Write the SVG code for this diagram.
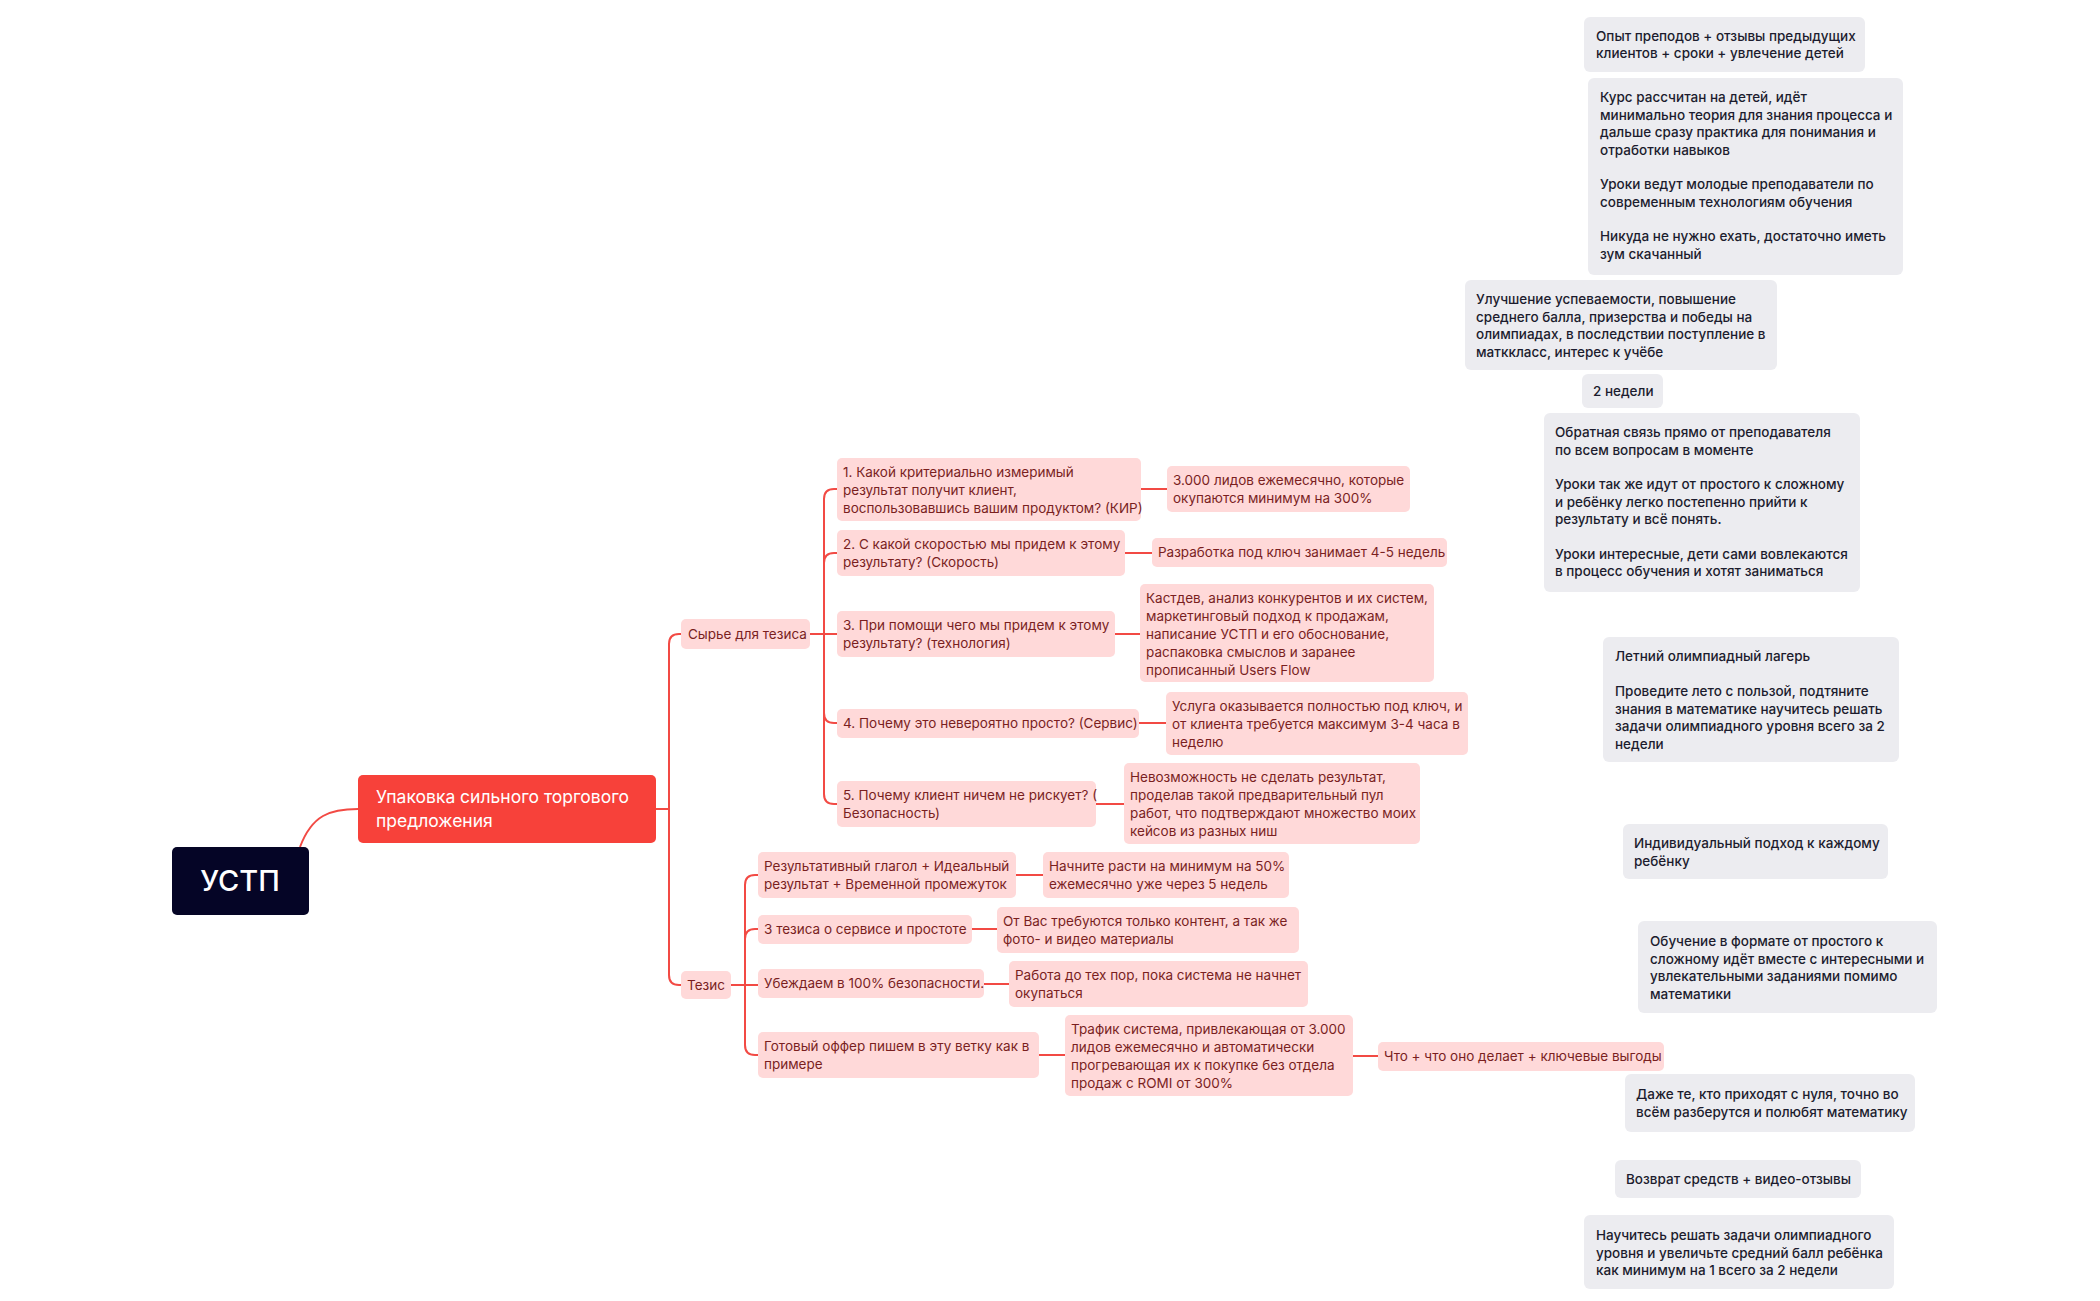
<svg xmlns="http://www.w3.org/2000/svg" width="2100" height="1301" viewBox="0 0 2100 1301">
<style>
.p{fill:#ffd9d9}
.g{fill:#ececf0}
.pt{font-family:Inter,"Liberation Sans",sans-serif;font-size:13.5px;fill:#7a1f1f}
.gt{font-family:Inter,"Liberation Sans",sans-serif;font-size:13.5px;font-weight:500;fill:#1c1c2e}
.c{fill:none;stroke:#f24a44;stroke-width:2}
</style>
<rect width="2100" height="1301" fill="#fff"/>
<g id="connectors">
<path class="c" d="M300,847 C312,815 330,809 358,809"/>
<path class="c" d="M656,809 H669 V644 Q669,634 679,634 H681"/>
<path class="c" d="M669,809 V975 Q669,985 679,985 H681"/>
<path class="c" d="M810,634 H824 V499 Q824,489 834,489 H837"/>
<path class="c" d="M824,563 Q824,553 834,553 H837"/>
<path class="c" d="M824,634 H837"/>
<path class="c" d="M824,634 V713 Q824,723 834,723 H837"/>
<path class="c" d="M824,713 V794 Q824,804 834,804 H837"/>
<path class="c" d="M1141,489 H1167 M1125,553 H1152 M1115,634 H1140 M1139,723 H1166 M1096,804 H1124"/>
<path class="c" d="M731,985 H745 V885 Q745,875 755,875 H758"/>
<path class="c" d="M745,939 Q745,929 755,929 H758"/>
<path class="c" d="M745,985 H758"/>
<path class="c" d="M745,985 V1045 Q745,1055 755,1055 H758"/>
<path class="c" d="M1016,875 H1043 M972,929 H997 M984,984 H1009 M1039,1055 H1065 M1353,1056 H1378"/>
</g>
<g id="root"><rect x="172" y="847" width="137" height="68" rx="5" fill="#050526"/><text x="240" y="891" text-anchor="middle" font-family="Inter,'Liberation Sans',sans-serif" font-size="29" font-weight="500" fill="#fff">УСТП</text></g>
<g id="main"><rect x="358" y="775" width="298" height="68" rx="5" fill="#f7413a"/><text font-family="Inter,'Liberation Sans',sans-serif" font-size="17.5" fill="#fff"><tspan x="376" y="803">Упаковка сильного торгового</tspan><tspan x="376" y="827">предложения</tspan></text></g>
<g id="raw"><rect class="p" x="681" y="619" width="129" height="30" rx="5"/><text class="pt" x="688" y="639">Сырье для тезиса</text></g>
<g id="thesis"><rect class="p" x="681" y="971" width="50" height="28" rx="5"/><text class="pt" x="687" y="990">Тезис</text></g>
<g id="q1"><rect class="p" x="837" y="458" width="304" height="63" rx="5"/><text class="pt"><tspan x="843" y="477">1. Какой критериально измеримый</tspan><tspan x="843" y="495">результат получит клиент,</tspan><tspan x="843" y="513">воспользовавшись вашим продуктом? (КИР)</tspan></text></g>
<g id="q2"><rect class="p" x="837" y="530" width="288" height="46" rx="5"/><text class="pt"><tspan x="843" y="549">2. С какой скоростью мы придем к этому</tspan><tspan x="843" y="567">результату? (Скорость)</tspan></text></g>
<g id="q3"><rect class="p" x="837" y="611" width="278" height="46" rx="5"/><text class="pt"><tspan x="843" y="630">3. При помощи чего мы придем к этому</tspan><tspan x="843" y="648">результату? (технология)</tspan></text></g>
<g id="q4"><rect class="p" x="837" y="709" width="302" height="29" rx="5"/><text class="pt" x="843" y="728">4. Почему это невероятно просто? (Сервис)</text></g>
<g id="q5"><rect class="p" x="837" y="781" width="259" height="46" rx="5"/><text class="pt"><tspan x="843" y="800">5. Почему клиент ничем не рискует? (</tspan><tspan x="843" y="818">Безопасность)</tspan></text></g>
<g id="a1"><rect class="p" x="1167" y="466" width="243" height="46" rx="5"/><text class="pt"><tspan x="1173" y="485">3.000 лидов ежемесячно, которые</tspan><tspan x="1173" y="503">окупаются минимум на 300%</tspan></text></g>
<g id="a2"><rect class="p" x="1152" y="538" width="295" height="29" rx="5"/><text class="pt" x="1158" y="557">Разработка под ключ занимает 4-5 недель</text></g>
<g id="a3"><rect class="p" x="1140" y="584" width="294" height="98" rx="5"/><text class="pt"><tspan x="1146" y="603">Кастдев, анализ конкурентов и их систем,</tspan><tspan x="1146" y="621">маркетинговый подход к продажам,</tspan><tspan x="1146" y="639">написание УСТП и его обоснование,</tspan><tspan x="1146" y="657">распаковка смыслов и заранее</tspan><tspan x="1146" y="675">прописанный Users Flow</tspan></text></g>
<g id="a4"><rect class="p" x="1166" y="692" width="302" height="63" rx="5"/><text class="pt"><tspan x="1172" y="711">Услуга оказывается полностью под ключ, и</tspan><tspan x="1172" y="729">от клиента требуется максимум 3-4 часа в</tspan><tspan x="1172" y="747">неделю</tspan></text></g>
<g id="a5"><rect class="p" x="1124" y="763" width="296" height="81" rx="5"/><text class="pt"><tspan x="1130" y="782">Невозможность не сделать результат,</tspan><tspan x="1130" y="800">проделав такой предварительный пул</tspan><tspan x="1130" y="818">работ, что подтверждают множество моих</tspan><tspan x="1130" y="836">кейсов из разных ниш</tspan></text></g>
<g id="t1"><rect class="p" x="758" y="852" width="258" height="46" rx="5"/><text class="pt"><tspan x="764" y="871">Результативный глагол + Идеальный</tspan><tspan x="764" y="889">результат + Временной промежуток</tspan></text></g>
<g id="t2"><rect class="p" x="758" y="915" width="214" height="29" rx="5"/><text class="pt" x="764" y="934">3 тезиса о сервисе и простоте</text></g>
<g id="t3"><rect class="p" x="758" y="969" width="226" height="29" rx="5"/><text class="pt" x="764" y="988">Убеждаем в 100% безопасности.</text></g>
<g id="t4"><rect class="p" x="758" y="1032" width="281" height="46" rx="5"/><text class="pt"><tspan x="764" y="1051">Готовый оффер пишем в эту ветку как в</tspan><tspan x="764" y="1069">примере</tspan></text></g>
<g id="t1a"><rect class="p" x="1043" y="852" width="246" height="46" rx="5"/><text class="pt"><tspan x="1049" y="871">Начните расти на минимум на 50%</tspan><tspan x="1049" y="889">ежемесячно уже через 5 недель</tspan></text></g>
<g id="t2a"><rect class="p" x="997" y="907" width="302" height="46" rx="5"/><text class="pt"><tspan x="1003" y="926">От Вас требуются только контент, а так же</tspan><tspan x="1003" y="944">фото- и видео материалы</tspan></text></g>
<g id="t3a"><rect class="p" x="1009" y="961" width="299" height="46" rx="5"/><text class="pt"><tspan x="1015" y="980">Работа до тех пор, пока система не начнет</tspan><tspan x="1015" y="998">окупаться</tspan></text></g>
<g id="t4a"><rect class="p" x="1065" y="1015" width="288" height="81" rx="5"/><text class="pt"><tspan x="1071" y="1034">Трафик система, привлекающая от 3.000</tspan><tspan x="1071" y="1052">лидов ежемесячно и автоматически</tspan><tspan x="1071" y="1070">прогревающая их к покупке без отдела</tspan><tspan x="1071" y="1088">продаж с ROMI от 300%</tspan></text></g>
<g id="t4b"><rect class="p" x="1378" y="1042" width="286" height="29" rx="5"/><text class="pt" x="1384" y="1061">Что + что оно делает + ключевые выгоды</text></g>
<g id="g1"><rect class="g" x="1584" y="17" width="281" height="55" rx="6"/><text class="gt"><tspan x="1596" y="41">Опыт преподов + отзывы предыдущих</tspan><tspan x="1596" y="58">клиентов + сроки + увлечение детей</tspan></text></g>
<g id="g2"><rect class="g" x="1588" y="78" width="315" height="197" rx="6"/><text class="gt"><tspan x="1600" y="102">Курс рассчитан на детей, идёт</tspan><tspan x="1600" y="119.5">минимально теория для знания процесса и</tspan><tspan x="1600" y="137">дальше сразу практика для понимания и</tspan><tspan x="1600" y="154.5">отработки навыков</tspan><tspan x="1600" y="189">Уроки ведут молодые преподаватели по</tspan><tspan x="1600" y="206.5">современным технологиям обучения</tspan><tspan x="1600" y="241">Никуда не нужно ехать, достаточно иметь</tspan><tspan x="1600" y="258.5">зум скачанный</tspan></text></g>
<g id="g3"><rect class="g" x="1465" y="280" width="312" height="90" rx="6"/><text class="gt"><tspan x="1476" y="304">Улучшение успеваемости, повышение</tspan><tspan x="1476" y="321.5">среднего балла, призерства и победы на</tspan><tspan x="1476" y="339">олимпиадах, в последствии поступление в</tspan><tspan x="1476" y="356.5">матккласс, интерес к учёбе</tspan></text></g>
<g id="g4"><rect class="g" x="1582" y="374" width="81" height="34" rx="6"/><text class="gt" x="1593" y="396">2 недели</text></g>
<g id="g5"><rect class="g" x="1544" y="413" width="316" height="179" rx="6"/><text class="gt"><tspan x="1555" y="437">Обратная связь прямо от преподавателя</tspan><tspan x="1555" y="454.5">по всем вопросам в моменте</tspan><tspan x="1555" y="489">Уроки так же идут от простого к сложному</tspan><tspan x="1555" y="506.5">и ребёнку легко постепенно прийти к</tspan><tspan x="1555" y="524">результату и всё понять.</tspan><tspan x="1555" y="558.5">Уроки интересные, дети сами вовлекаются</tspan><tspan x="1555" y="576">в процесс обучения и хотят заниматься</tspan></text></g>
<g id="g6"><rect class="g" x="1603" y="637" width="296" height="125" rx="6"/><text class="gt"><tspan x="1615" y="661">Летний олимпиадный лагерь</tspan><tspan x="1615" y="696">Проведите лето с пользой, подтяните</tspan><tspan x="1615" y="713.5">знания в математике научитесь решать</tspan><tspan x="1615" y="731">задачи олимпиадного уровня всего за 2</tspan><tspan x="1615" y="748.5">недели</tspan></text></g>
<g id="g7"><rect class="g" x="1623" y="824" width="265" height="55" rx="6"/><text class="gt"><tspan x="1634" y="848">Индивидуальный подход к каждому</tspan><tspan x="1634" y="865.5">ребёнку</tspan></text></g>
<g id="g8"><rect class="g" x="1638" y="921" width="299" height="92" rx="6"/><text class="gt"><tspan x="1650" y="946">Обучение в формате от простого к</tspan><tspan x="1650" y="963.5">сложному идёт вместе с интересными и</tspan><tspan x="1650" y="981">увлекательными заданиями помимо</tspan><tspan x="1650" y="998.5">математики</tspan></text></g>
<g id="g9"><rect class="g" x="1625" y="1074" width="290" height="58" rx="6"/><text class="gt"><tspan x="1636" y="1099">Даже те, кто приходят с нуля, точно во</tspan><tspan x="1636" y="1116.5">всём разберутся и полюбят математику</tspan></text></g>
<g id="g10"><rect class="g" x="1615" y="1160" width="246" height="38" rx="6"/><text class="gt" x="1626" y="1184">Возврат средств + видео-отзывы</text></g>
<g id="g11"><rect class="g" x="1584" y="1215" width="310" height="74" rx="6"/><text class="gt"><tspan x="1596" y="1240">Научитесь решать задачи олимпиадного</tspan><tspan x="1596" y="1257.5">уровня и увеличьте средний балл ребёнка</tspan><tspan x="1596" y="1275">как минимум на 1 всего за 2 недели</tspan></text></g>
</svg>
